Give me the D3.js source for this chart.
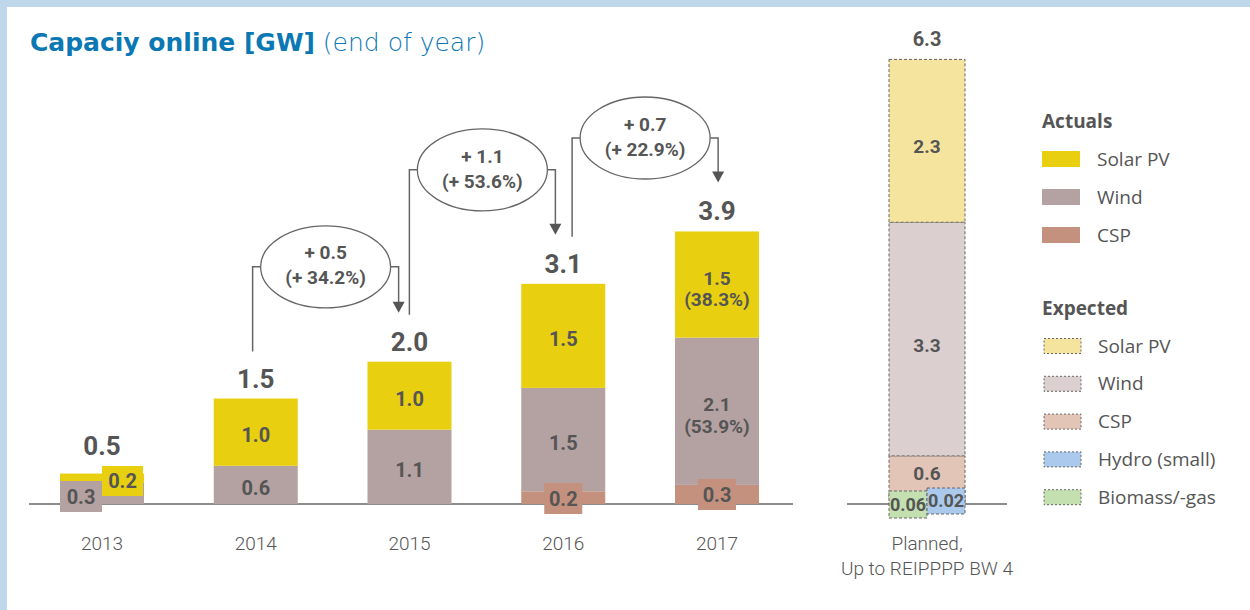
<!DOCTYPE html>
<html>
<head>
<meta charset="utf-8">
<title>Capacity online [GW]</title>
<script src="https://d3js.org/d3.v7.min.js"></script>
<style>
  body { margin: 0; background: #fff; }
  text { font-family: Roboto, sans-serif; fill: #555; }
</style>
</head>
<body>
<svg id="chart"></svg>
<script>
// values, GW at end of year
var years = ["2013", "2014", "2015", "2016", "2017"];
var cspActual = [0, 0, 0, 0.18, 0.27];
var windActual = [0.30, 0.54, 1.05, 1.46, 2.08];
var solarActual = [0.13, 0.95, 0.96, 1.47, 1.50];

var totalLabels = ["0.5", "1.5", "2.0", "3.1", "3.9"];
var cspLabels = [[], [], [], ["0.2"], ["0.3"]];
var windLabels = [["0.3"], ["0.6"], ["1.1"], ["1.5"], ["2.1", "(53.9%)"]];
var solarLabels = [["0.2"], ["1.0"], ["1.0"], ["1.5"], ["1.5", "(38.3%)"]];
var growthLabels = [["+ 0.5", "(+ 34.2%)"], ["+ 1.1", "(+ 53.6%)"], ["+ 0.7", "(+ 22.9%)"]];

var plannedKeys = ["biomass", "hydro", "csp", "wind", "solar"];
var plannedValues = [0.06, 0.02, 0.6, 3.3, 2.3];
var plannedLabels = ["0.06", "0.02", "0.6", "3.3", "2.3"];
var plannedTotal = "6.3";

var actualNames = ["Solar PV", "Wind", "CSP"];
var expectedNames = ["Solar PV", "Wind", "CSP", "Hydro (small)", "Biomass/-gas"];

// colours
var actualColor = {solar: "#e8cf10", wind: "#b4a1a2", csp: "#c4917e"};
var plannedColor = {solar: "#f5e49e", wind: "#dbcfd0", csp: "#e3c5b8", hydro: "#abc9ec", biomass: "#c4e0b0"};

// small tag boxes for labels of thin segments (offsets from bar centre / baseline)
var tags = [
  {bar: 0, key: "wind", dx: -21, dy: -7.5, w: 42, h: 31},
  {bar: 0, key: "solar", dx: 20.5, dy: -23, w: 41, h: 30},
  {bar: 3, key: "csp", dx: 0, dy: -5.5, w: 38, h: 31},
  {bar: 4, key: "csp", dx: 0, dy: -9.5, w: 38, h: 31}
];
var plannedTags = [
  {key: "biomass", dx: -19, dy: 0.5, w: 38, h: 27},
  {key: "hydro", dx: 19, dy: -3, w: 38, h: 26}
];
// vertical level (GW) and horizontal nudge of the growth ellipses
var growthLevel = [3.35, 4.72, 5.17];
var growthDx = [-7, -4, 5];

var svg = d3.select("#chart").attr("width", 1250).attr("height", 610);

// light blue frame
svg.append("rect").attr("width", 1250).attr("height", 7).attr("fill", "#bfd7ea");
svg.append("rect").attr("width", 7).attr("height", 610).attr("fill", "#bfd7ea");

// title
var title = svg.append("text").attr("x", 30).attr("y", 51)
  .style("font-family", "'DejaVu Sans', sans-serif").style("font-size", "25px");
title.append("tspan").text("Capaciy online [GW]").style("font-weight", "bold").style("fill", "#0b78b4");
title.append("tspan").text(" (end of year)").style("fill", "#0b78b4").style("font-weight", "300");

var y = d3.scaleLinear().domain([0, 6.3]).range([504, 58]);
var x = d3.scalePoint().domain(years).range([102, 717]);
var barW = 84;
var xPlanned = 927, plannedW = 76;

// baselines
svg.append("line").attr("x1", 29).attr("x2", 793).attr("y1", y(0)).attr("y2", y(0))
  .attr("stroke", "#666").attr("stroke-width", 1.5);
svg.append("line").attr("x1", 847).attr("x2", 1007).attr("y1", y(0)).attr("y2", y(0))
  .attr("stroke", "#666").attr("stroke-width", 1.5);

// actual bars
var rows = years.map(function(yr, i) {
  return {year: yr, i: i, csp: cspActual[i], wind: windActual[i], solar: solarActual[i]};
});
var labelsFor = {csp: cspLabels, wind: windLabels, solar: solarLabels};
var series = d3.stack().keys(["csp", "wind", "solar"])(rows);

var isTagged = function(i, key) {
  return tags.some(function(t) { return t.bar === i && t.key === key; });
};

series.forEach(function(s) {
  svg.selectAll(".seg-" + s.key)
    .data(s)
    .enter().append("rect")
    .attr("class", "seg-" + s.key)
    .attr("x", function(d) { return x(d.data.year) - barW / 2; })
    .attr("y", function(d) { return y(d[1]); })
    .attr("width", barW)
    .attr("height", function(d) { return y(d[0]) - y(d[1]); })
    .attr("fill", actualColor[s.key]);
});

// labels inside the segments
series.forEach(function(s) {
  s.forEach(function(d) {
    var i = d.data.i;
    var lines = labelsFor[s.key][i];
    if (!lines.length || isTagged(i, s.key)) return;
    var mid = (y(d[0]) + y(d[1])) / 2 + 3;
    if (lines.length === 1) {
      svg.append("text").attr("x", x(d.data.year)).attr("y", mid).attr("dy", "0.35em")
        .attr("text-anchor", "middle").style("font-size", "20px").style("font-weight", "bold")
        .text(lines[0]);
    } else {
      lines.forEach(function(l, k) {
        svg.append("text").attr("x", x(d.data.year)).attr("y", mid + (k === 0 ? -9.5 : 12))
          .attr("dy", "0.35em").attr("text-anchor", "middle")
          .style("font-size", "19px").style("font-weight", "bold").text(l);
      });
    }
  });
});

// tag boxes
tags.forEach(function(t) {
  var cx = x(years[t.bar]) + t.dx, cy = y(0) + t.dy;
  svg.append("rect").attr("x", cx - t.w / 2).attr("y", cy - t.h / 2)
    .attr("width", t.w).attr("height", t.h).attr("fill", actualColor[t.key]);
  svg.append("text").attr("x", cx).attr("y", cy).attr("dy", "0.35em")
    .attr("text-anchor", "middle").style("font-size", "20px").style("font-weight", "bold")
    .text(labelsFor[t.key][t.bar][0]);
});

// totals
var topOf = rows.map(function(r, i) { return series[2][i][1]; });
rows.forEach(function(r, i) {
  var top = y(topOf[i]);
  tags.forEach(function(t) {
    if (t.bar === i) top = Math.min(top, y(0) + t.dy - t.h / 2);
  });
  svg.append("text").attr("x", x(r.year)).attr("y", top - 11)
    .attr("text-anchor", "middle").style("font-size", "26px").style("font-weight", "bold")
    .text(totalLabels[i]);
});

// year labels
svg.selectAll(".year").data(years).enter().append("text")
  .attr("class", "year").attr("x", function(d) { return x(d); }).attr("y", 550)
  .attr("text-anchor", "middle").style("font-size", "19px").style("font-weight", "300")
  .text(function(d) { return d; });

// growth ellipses with connectors
var rx = 65, ry = 41;
growthLabels.forEach(function(g, k) {
  var prev = k + 1, next = k + 2;
  var cx = (x(years[prev]) + x(years[next])) / 2 + growthDx[k];
  var cy = y(growthLevel[k]);
  var leftX = cx - rx - 8, rightX = cx + rx + 8;
  var tipY = y(topOf[next]) - 49;
  svg.append("path")
    .attr("d", "M" + (cx - rx) + "," + cy + "H" + leftX + "V" + (y(topOf[prev]) - 47))
    .attr("fill", "none").attr("stroke", "#666").attr("stroke-width", 1.5);
  svg.append("path")
    .attr("d", "M" + (cx + rx) + "," + cy + "H" + rightX + "V" + (tipY - 10))
    .attr("fill", "none").attr("stroke", "#666").attr("stroke-width", 1.5);
  svg.append("path")
    .attr("d", "M" + (rightX - 6) + "," + (tipY - 11) + "L" + (rightX + 6) + "," + (tipY - 11) + "L" + rightX + "," + tipY + "Z")
    .attr("fill", "#555");
  svg.append("ellipse").attr("cx", cx).attr("cy", cy).attr("rx", rx).attr("ry", ry)
    .attr("fill", "#fff").attr("stroke", "#666").attr("stroke-width", 1.3);
  var t = svg.append("text").attr("text-anchor", "middle")
    .style("font-size", "19px").style("font-weight", "bold");
  t.append("tspan").attr("x", cx).attr("y", cy - 14).attr("dy", "0.35em").text(g[0]);
  t.append("tspan").attr("x", cx).attr("y", cy + 11).attr("dy", "0.35em").text(g[1]);
});

// planned bar
var acc = 0;
var plannedSegs = plannedKeys.map(function(k, i) {
  var s = {key: k, y0: acc, y1: acc + plannedValues[i], label: plannedLabels[i]};
  acc += plannedValues[i];
  return s;
});
svg.selectAll(".planned").data(plannedSegs).enter().append("rect")
  .attr("class", "planned")
  .attr("x", xPlanned - plannedW / 2)
  .attr("y", function(d) { return y(d.y1); })
  .attr("width", plannedW)
  .attr("height", function(d) { return y(d.y0) - y(d.y1); })
  .attr("fill", function(d) { return plannedColor[d.key]; })
  .attr("stroke", "#666").attr("stroke-width", 1).attr("stroke-dasharray", "3,2");

var tagTop = d3.min(plannedTags, function(t) { return y(0) + t.dy - t.h / 2; });
plannedSegs.forEach(function(d) {
  if (d.key === "biomass" || d.key === "hydro") return;
  var bottom = Math.min(y(d.y0), tagTop);
  var off = d.key === "csp" ? 1 : 6;
  svg.append("text").attr("x", xPlanned).attr("y", (bottom + y(d.y1)) / 2 + off)
    .attr("dy", "0.35em").attr("text-anchor", "middle")
    .style("font-size", "19px").style("font-weight", "bold").text(d.label);
});

plannedTags.forEach(function(t) {
  var seg = plannedSegs.filter(function(s) { return s.key === t.key; })[0];
  var cx = xPlanned + t.dx, cy = y(0) + t.dy;
  svg.append("rect").attr("x", cx - t.w / 2).attr("y", cy - t.h / 2)
    .attr("width", t.w).attr("height", t.h).attr("fill", plannedColor[t.key])
    .attr("stroke", "#666").attr("stroke-width", 1).attr("stroke-dasharray", "3,2");
  svg.append("text").attr("x", cx).attr("y", cy).attr("dy", "0.35em")
    .attr("text-anchor", "middle").style("font-size", "18px").style("font-weight", "bold")
    .text(seg.label);
});

svg.append("text").attr("x", xPlanned).attr("y", y(acc) - 13).attr("text-anchor", "middle")
  .style("font-size", "20px").style("font-weight", "bold").text(plannedTotal);

var pl = svg.append("text").attr("text-anchor", "middle").style("font-size", "19px").style("font-weight", "300");
pl.append("tspan").attr("x", xPlanned).attr("y", 550).text("Planned,");
pl.append("tspan").attr("x", xPlanned).attr("y", 575).text("Up to REIPPPP BW 4");

// legend
var legend = svg.append("g");
legend.append("text").attr("x", 1042).attr("y", 128).style("font-family", "'Open Sans', sans-serif")
  .style("font-size", "19px").style("font-weight", "bold").text("Actuals");
var actualKeys = ["solar", "wind", "csp"];
actualNames.forEach(function(n, i) {
  var cy = 159 + i * 38;
  legend.append("rect").attr("x", 1042).attr("y", cy - 8).attr("width", 38).attr("height", 16)
    .attr("fill", actualColor[actualKeys[i]]);
  legend.append("text").attr("x", 1097).attr("y", cy).attr("dy", "0.35em")
    .style("font-family", "'Open Sans', sans-serif").style("font-size", "19px").text(n);
});
legend.append("text").attr("x", 1042).attr("y", 315).style("font-family", "'Open Sans', sans-serif")
  .style("font-size", "19px").style("font-weight", "bold").text("Expected");
var expectedKeys = ["solar", "wind", "csp", "hydro", "biomass"];
expectedNames.forEach(function(n, i) {
  var cy = 346 + i * 37.8;
  legend.append("rect").attr("x", 1044).attr("y", cy - 7.5).attr("width", 37).attr("height", 15)
    .attr("fill", plannedColor[expectedKeys[i]])
    .attr("stroke", "#666").attr("stroke-width", 1).attr("stroke-dasharray", "2,2");
  legend.append("text").attr("x", 1098).attr("y", cy).attr("dy", "0.35em")
    .style("font-family", "'Open Sans', sans-serif").style("font-size", "19px").text(n);
});
</script>
</body>
</html>
